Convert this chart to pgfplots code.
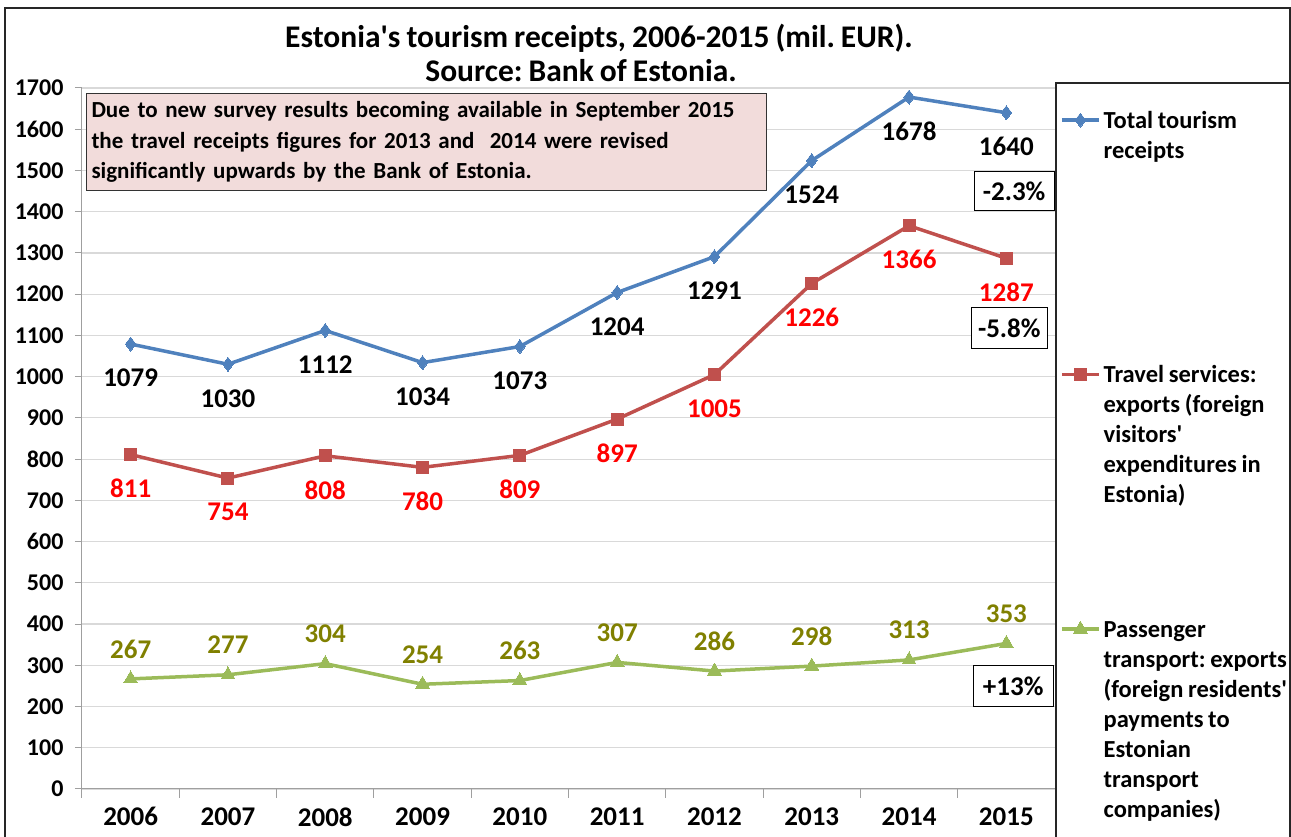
\documentclass[border=0pt]{standalone}
\usepackage{fontspec}
\setmainfont{Carlito}[WordSpace=0.85]
\usepackage{pgfplots}
\pgfplotsset{compat=1.18}
\frenchspacing

\definecolor{cblue}{HTML}{4F81BD}
\definecolor{cred}{HTML}{C0504D}
\definecolor{cgreen}{HTML}{9BBB59}
\definecolor{lblred}{HTML}{FF0000}
\definecolor{lblolive}{HTML}{808000}
\definecolor{notefill}{HTML}{F2DCDB}

\newcommand{\fs}[2]{\fontsize{#1}{#2}\selectfont\bfseries}
% legend text: fixed first-line height, rest smashed so rows sit evenly
\newcommand{\legtext}[1]{\rule{0pt}{20pt}\smash{\parbox[t]{188pt}{\fs{24.5}{30}#1}}}

\begin{document}
\begin{tikzpicture}
\begin{axis}[
    at={(82pt,48pt)}, anchor=south west,
    scale only axis, width=973pt, height=701pt,
    xmin=-0.5, xmax=9.5, ymin=0, ymax=1700,
    axis lines*=left, axis line style={draw=gray!75, line width=1pt, -},
    xtick={0,...,9},
    xticklabels={2006,2007,2008,2009,2010,2011,2012,2013,2014,2015},
    major x tick style={draw=none},
    minor xtick={-0.5,0.5,...,9.5},
    minor tick length=9pt,
    ytick={0,100,...,1700},
    major tick length=7pt,
    tick align=outside,
    tick style={draw=gray!75, line width=1pt},
    ymajorgrids, grid style={draw=gray!30, line width=1.2pt},
    x tick label style={font=\fs{27}{27}, yshift=-8pt},
    y tick label style={font=\fs{24}{24}, xshift=-8pt},
    nodes near coords={\fs{27}{27}\pgfmathprintnumber{\pgfplotspointmeta}},
    every node near coord/.append style={anchor=center},
    legend cell align=left,
    legend style={at={(1.0051,0.9715)}, anchor=north west, draw=none, fill=none,
        inner sep=0pt, row sep=233pt, column sep=3pt,
        cells={anchor=base west}, nodes={inner sep=0pt}},
    legend image code/.code={
        \draw[mark repeat=2, mark phase=2, #1] plot coordinates {(0pt,8pt) (18.5pt,8pt) (37pt,8pt)};},
    /pgf/number format/1000 sep={},
    /pgf/number format/assume math mode=true,
]
\addplot[color=cblue, line width=3.5pt, mark=diamond*, mark size=7pt,
    mark options={line width=0pt},
    every node near coord/.append style={black, yshift=-34pt}]
    coordinates {(0,1079) (1,1030) (2,1112) (3,1034) (4,1073) (5,1204) (6,1291) (7,1524) (8,1678) (9,1640)};
\addlegendentry{\legtext{Total tourism\\receipts}}
\addplot[color=cred, line width=3.5pt, mark=square*, mark size=6pt,
    mark options={line width=0pt},
    every node near coord/.append style={lblred, yshift=-34pt}]
    coordinates {(0,811) (1,754) (2,808) (3,780) (4,809) (5,897) (6,1005) (7,1226) (8,1366) (9,1287)};
\addlegendentry{\legtext{Travel services:\\exports (foreign\\visitors\textquotesingle\\expenditures in\\Estonia)}}
\addplot[color=cgreen, line width=3.5pt, mark=triangle*, mark size=8pt,
    mark options={line width=0pt},
    every node near coord/.append style={lblolive, yshift=30pt}]
    coordinates {(0,267) (1,277) (2,304) (3,254) (4,263) (5,307) (6,286) (7,298) (8,313) (9,353)};
\addlegendentry{\legtext{Passenger\\transport: exports\\(foreign residents\textquotesingle\\payments to\\Estonian\\transport\\companies)}}

\node[draw=black, line width=1pt, fill=white, font=\fs{27}{27}, inner sep=0pt,
    minimum width=80pt, minimum height=39pt]
    at (axis cs:9.08,1450) {-2.3\%};
\node[draw=black, line width=1pt, fill=white, font=\fs{27}{27}, inner sep=0pt,
    minimum width=76pt, minimum height=41pt]
    at (axis cs:9.03,1118) {-5.8\%};
\node[draw=black, line width=1pt, fill=white, font=\fs{27}{27}, inner sep=0pt,
    minimum width=80pt, minimum height=41pt]
    at (axis cs:9.07,250) {+13\%};
\end{axis}

% title and note
\node[font=\fs{31.5}{31.5}] at (599pt,799pt) {Estonia\textquotesingle s tourism receipts, 2006-2015 (mil. EUR).};
\node[font=\fs{31.5}{31.5}] at (581pt,766pt) {Source: Bank of Estonia.};
\node[draw=black!80, line width=1pt, fill=notefill, anchor=north west,
      text width=670pt, align=left, inner xsep=5pt, inner ysep=8pt, font=\fs{23}{30.5}]
    at (86pt,744pt) {Due to new survey results becoming available in September 2015\\
    the travel receipts figures for 2013 and\ \ 2014 were revised\\
    significantly upwards by the Bank of Estonia.};

% frames
\draw[black!85, line width=1.2pt] (5pt,-10pt) -- (5pt,829pt) -- (1290pt,829pt) -- (1290pt,-10pt);
\draw[black!85, line width=1.2pt] (1056pt,-10pt) -- (1056pt,754pt) -- (1290pt,754pt);

\pgfresetboundingbox
\useasboundingbox (0pt,0pt) rectangle (1291pt,837pt);
\end{tikzpicture}
\end{document}
